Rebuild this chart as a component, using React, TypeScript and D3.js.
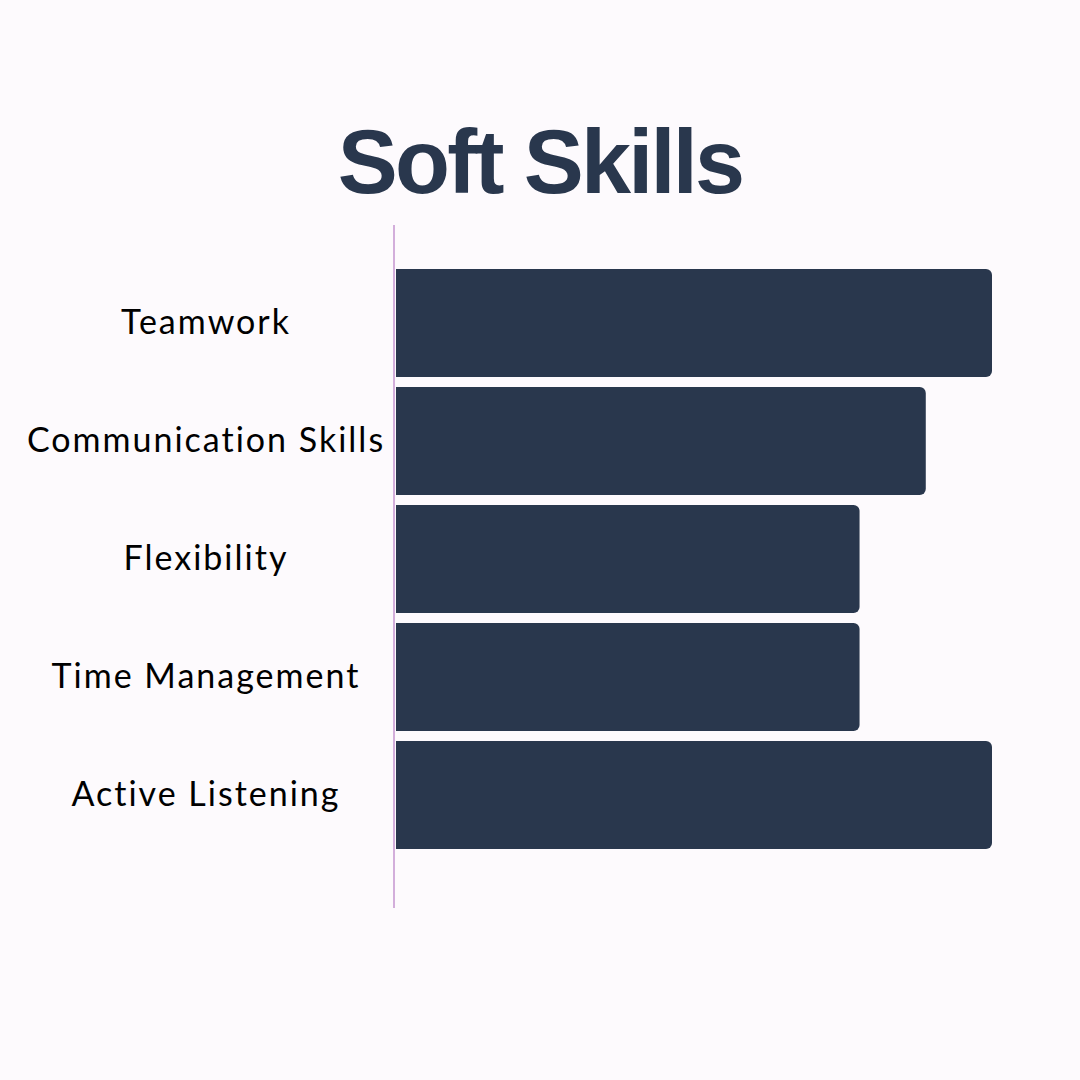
import React, { useRef, useEffect } from 'react'
import * as d3 from 'd3'

const skills = ['Teamwork', 'Communication Skills', 'Flexibility', 'Time Management', 'Active Listening']
const scores = [9, 8, 7, 7, 9]
const maxScore = 9

const COLORS = {
  bg: '#fdfafd',
  bar: '#29374d',
  axis: '#d3aedb',
  title: '#29374d',
  label: '#000000'
}

export default function App() {
  const svgRef = useRef<SVGSVGElement>(null)
  const width = 1080
  const height = 1080

  useEffect(() => {
    if (!svgRef.current) return
    const svg = d3.select(svgRef.current)
    svg.selectAll('*').remove()

    svg.append('rect')
      .attr('width', width)
      .attr('height', height)
      .attr('fill', COLORS.bg)

    // Title
    svg.append('text')
      .attr('x', 540)
      .attr('y', 193)
      .attr('text-anchor', 'middle')
      .style('font-family', '"Liberation Sans", Arial, sans-serif')
      .style('font-weight', '700')
      .style('font-size', '90px')
      .style('letter-spacing', '-2.8px')
      .style('fill', COLORS.title)
      .text('Soft Skills')

    const data = skills.map((s, i) => ({ name: s, value: scores[i] }))

    const y = d3.scaleBand()
      .domain(skills)
      .range([259, 859])
      .padding(10 / 118)

    const x = d3.scaleLinear()
      .domain([0, maxScore])
      .range([396, 992])

    const r = 6
    const barPath = (x0: number, x1: number, y0: number, h: number) => {
      const p = d3.path()
      p.moveTo(x0, y0)
      p.lineTo(x1 - r, y0)
      p.arcTo(x1, y0, x1, y0 + r, r)
      p.lineTo(x1, y0 + h - r)
      p.arcTo(x1, y0 + h, x1 - r, y0 + h, r)
      p.lineTo(x0, y0 + h)
      p.closePath()
      return p.toString()
    }

    svg.selectAll('.bar')
      .data(data)
      .enter().append('path')
      .attr('class', 'bar')
      .attr('d', d => barPath(x(0), x(d.value), y(d.name)!, y.bandwidth()))
      .attr('fill', COLORS.bar)

    // Axis line
    svg.append('line')
      .attr('x1', 394)
      .attr('x2', 394)
      .attr('y1', 225)
      .attr('y2', 908)
      .attr('stroke', COLORS.axis)
      .attr('stroke-width', 2)

    // Category labels
    svg.selectAll('.label')
      .data(data)
      .enter().append('text')
      .attr('class', 'label')
      .attr('x', 206)
      .attr('y', d => y(d.name)! + y.bandwidth() / 2 - 3)
      .attr('text-anchor', 'middle')
      .attr('dominant-baseline', 'central')
      .style('font-family', 'Lato, "Noto Sans", sans-serif')
      .style('font-size', '34px')
      .style('letter-spacing', '2px')
      .style('fill', COLORS.label)
      .text(d => d.name)
  }, [])

  return (
    <svg
      ref={svgRef}
      width={width}
      height={height}
      style={{ position: 'absolute', top: 0, left: 0, display: 'block' }}
    />
  )
}
